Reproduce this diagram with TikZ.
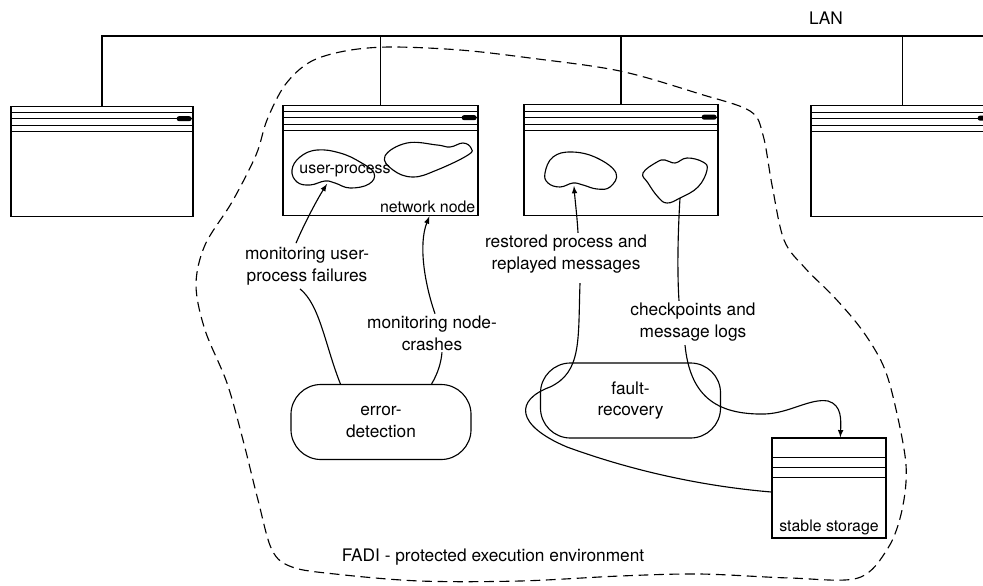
\documentclass[tikz,border=0pt]{standalone}
\usepackage{fontspec}
\setmainfont{TeX Gyre Heros}
\usepackage{tikz}
\usetikzlibrary{calc,arrows}

\begin{document}
\begin{tikzpicture}[x=0.025cm,y=-0.025cm,line width=0.8pt,>=latex]
\tikzstyle{lbl} = [font=\fontsize{12.3}{15.5}\selectfont,align=center,inner sep=1pt];
\tikzstyle{small} = [font=\fontsize{11.3}{13}\selectfont,inner sep=2pt];
\tikzstyle{host} = [draw,line width=0.9pt,minimum height=2.76cm];
\tikzstyle{proc} = [draw,rounded corners=0.75cm,minimum width=4.5cm,minimum height=1.875cm,lbl];
\tikzstyle{fence} = [dash pattern=on 7pt off 4pt,line width=0.8pt];
\useasboundingbox (0,0) rectangle (983,585);
\clip (0,0) rectangle (983,585);

% hosts on the LAN
\node [host,minimum width=4.55cm] (n1) at (102,161.5) {};
\node [host,minimum width=4.875cm] (n2) at (380.5,160.5) {};
\node [host,minimum width=4.85cm] (n3) at (621,160) {};
\node [host,minimum width=4.575cm] (n4) at (902.5,161) {};
\foreach \h in {n1,n2,n3,n4} {
  \foreach \d in {7,13,20,26}
    \draw[line width=0.7pt] ($(\h.north west)+(0,\d)$) -- ($(\h.north east)+(0,\d)$);
  \fill[rounded corners=1.7pt] ($(\h.north east)+(-17,10.5)$) rectangle ($(\h.north east)+(-2,15.5)$);
}
\coordinate (lanR) at (995,36);
\draw (n1.north) |- (lanR);
\foreach \h in {n2,n3,n4} \draw (\h.north) -- (\h.north |- lanR);
\node [lbl] (lan) at (826,18) {LAN};

% processes
\draw plot[smooth cycle,tension=0.7] coordinates {(292,170) (300,157) (317,150) (340,153) (360,162) (374,173) (369,184) (350,188) (335,183) (325,181) (310,185) (297,182)};
\draw plot[smooth cycle,tension=0.7] coordinates {(385,156) (407,143) (437,145) (450,147) (463,143) (471,148) (468,155) (437,170) (413,177) (393,170)};
\draw plot[smooth cycle,tension=0.7] coordinates {(545,173) (553,157) (572,152) (597,158) (616,173) (610,187) (597,189) (583,185) (573,183) (560,187) (548,183)};
\draw plot[smooth cycle,tension=0.7] coordinates {(643,173) (657,162) (665,160) (675,163) (687,158) (703,162) (707,170) (698,187) (680,198) (667,203) (658,197) (648,183)};
\node [small] (up) at (345,171) {user-process};
\node [small,anchor=south east] (nn) at (n2.south east) {network node};
\coordinate (b1) at (327,184);
\coordinate (b3) at (574,186);
\coordinate (b4) at (680,198);

% labels and services
\node [lbl] (mu) at (307,266) {monitoring user-\\process failures};
\node [lbl] (mn) at (432,333) {monitoring node-\\crashes};
\node [lbl] (rp) at (566,254) {restored process and\\replayed messages};
\node [lbl] (cp) at (693,322) {checkpoints and\\message logs};
\node [proc] (ed) at (381,422) {error-\\detection};
\node [proc] (fr) at (630.5,400.5) {fault-\\recovery};
\node [draw,line width=0.9pt,minimum width=2.85cm,minimum height=2.5cm] (ss) at (829,488) {};
\foreach \d in {20,30,40} \draw ($(ss.north west)+(0,\d)$) -- ($(ss.north east)+(0,\d)$);
\node [small,anchor=south] (ssl) at (ss.south) {stable storage};

% connectors
\draw[->] ($(mu.north)+(-11,-2)$) .. controls (305,222) and (318,198) .. (b1);
\draw ($(mu.south)+(-7,2)$) .. controls (320,305) and (325,345) .. ($(ed.north west)+(50,0)$);
\draw ($(ed.north east)+(-40,0)$) .. controls (438,373) and (441,363) .. ($(mn.south)+(10,0)$);
\draw[->] ($(mn.north)+(3,0)$) .. controls (425,285) and (418,245) .. ($(n2.south west)+(147,0)$);
\draw[->] ($(rp.north)+(12,0)$) .. controls (577,215) and (575,200) .. (b3);
\draw ($(rp.south)+(14,8)$) .. controls (578,340) and (582,372) .. (550,387)
  .. controls (515,400) and (515,425) .. (567,447)
  .. controls (630,470) and (700,486) .. ($(ss.west)+(0,4)$);
\draw (b4) .. controls (678,230) and (677,270) .. ($(cp.north)+(-14,0)$);
\draw[->] ($(cp.south)+(-8,2)$) .. controls (690,395) and (715,415) .. (765,414)
  .. controls (790,413) and (810,398) .. (828,401)
  .. controls (842,405) and (841,420) .. ($(ss.north west)+(69,0)$);

% protected environment
\draw[fence] plot[smooth cycle,tension=0.55] coordinates {(267,120) (285,85) (310,62) (345,51) (390,47) (460,50) (530,58) (620,71) (700,94) (750,111) (763,135) (772,185) (784,240) (805,268) (835,298) (862,330) (883,365) (895,405) (906,465) (902,510) (888,548) (858,578) (790,578) (700,574) (620,576) (520,581) (420,581) (335,574) (292,567) (272,550) (258,500) (243,440) (227,383) (205,330) (196,285) (205,245) (232,202) (256,155)};
\node [lbl] (fadi) at (493,557) {FADI - protected execution environment};
\end{tikzpicture}
\end{document}
